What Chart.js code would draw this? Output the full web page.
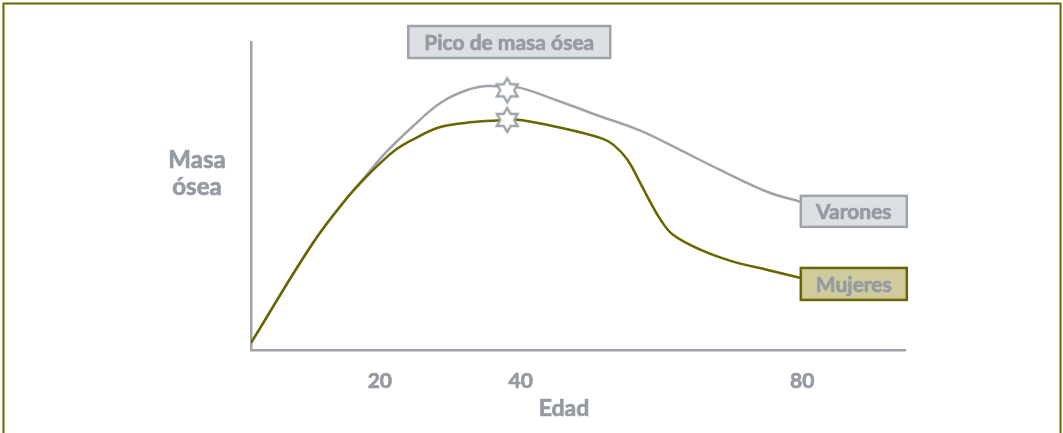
<!DOCTYPE html>
<html>
<head>
<meta charset="utf-8">
<script src="https://cdn.jsdelivr.net/npm/chart.js@4/dist/chart.umd.min.js"></script>
<style>
  html, body { margin: 0; padding: 0; background: #ffffff; }
  #wrap { width: 1063px; height: 433px; position: relative; }
</style>
</head>
<body>
<div id="wrap"><canvas id="c" width="1063" height="433"></canvas></div>
<script>
// Edad (años) y masa ósea relativa
const edadVarones = [1.7, 10.4, 15.1, 17.9, 20.8, 24.6, 28.6, 32.4, 35.3, 38.1, 40.0, 45.7, 51.4, 57.0, 62.7, 68.4, 75.1, 79.8];
const masaVarones = [2.3, 34.4, 48.7, 56.2, 64.0, 72.4, 80.2, 84.4, 85.7, 85.4, 85.1, 80.6, 75.8, 71.2, 64.9, 58.4, 51.3, 48.1];

const edadMujeres = [1.7, 10.4, 15.1, 17.9, 19.8, 22.2, 24.6, 28.6, 33.3, 38.1, 40.0, 45.2, 51.4, 53.2, 55.2, 57.0, 58.5, 59.9, 61.7, 65.6, 70.3, 75.1, 79.8];
const masaMujeres = [2.3, 34.4, 48.7, 55.8, 60.1, 64.9, 68.2, 72.4, 74.0, 74.7, 74.7, 72.4, 68.8, 66.6, 61.7, 54.2, 47.7, 42.2, 37.3, 32.5, 28.6, 26.0, 23.4];

// Pico de masa ósea (edad y valor en cada curva)
const edadPico = [38.1, 38.1];
const masaPico = [84.3, 74.7];

const edadTicks = [20, 40, 80];
const serieNombres = ['Varones', 'Mujeres'];
const tituloPico = 'Pico de masa ósea';
const tituloY = ['Masa', 'ósea'];
const tituloX = 'Edad';

const GRIS = '#9ea4aa';
const GRIS_TXT = '#959ba2';
const OLIVA = '#6b6500';
const FONT = 'Lato, "Open Sans", sans-serif';

function pts(xs, ys) { return xs.map((x, i) => ({ x: x, y: ys[i] })); }

// Six-pointed star used as point marker
function hexagram(r) {
  const pad = 3;
  const size = Math.ceil(r * 2 + pad * 2);
  const cv = document.createElement('canvas');
  cv.width = size; cv.height = size;
  const g = cv.getContext('2d');
  const cx = size / 2, cy = size / 2;
  const ri = r * 0.58;
  g.beginPath();
  for (let i = 0; i < 12; i++) {
    const a = -Math.PI / 2 + i * Math.PI / 6;
    const rr = i % 2 === 0 ? r : ri;
    const px = cx + rr * Math.cos(a), py = cy + rr * Math.sin(a);
    if (i === 0) g.moveTo(px, py); else g.lineTo(px, py);
  }
  g.closePath();
  g.fillStyle = '#ffffff';
  g.fill();
  g.lineWidth = 2.4;
  g.strokeStyle = GRIS;
  g.lineJoin = 'miter';
  g.stroke();
  return cv;
}
const estrella = hexagram(12);

// bold text with a hairline outline for a heavier face
function heavyText(ctx, text, x, y, size) {
  ctx.font = 'bold ' + size + 'px ' + FONT;
  ctx.fillStyle = GRIS_TXT;
  ctx.strokeStyle = GRIS_TXT;
  ctx.lineWidth = 0.7;
  ctx.lineJoin = 'round';
  ctx.fillText(text, x, y);
  ctx.strokeText(text, x, y);
}

function box(ctx, x, y, w, h, fill, stroke, text) {
  ctx.save();
  ctx.fillStyle = fill;
  ctx.fillRect(x, y, w, h);
  ctx.lineWidth = 2.5;
  ctx.strokeStyle = stroke;
  ctx.strokeRect(x, y, w, h);
  ctx.textAlign = 'center';
  ctx.textBaseline = 'middle';
  heavyText(ctx, text, x + w / 2, y + h / 2 + 1, 21);
  ctx.restore();
}

const decoraciones = {
  id: 'decoraciones',
  afterDatasetsDraw(chart) {
    const ctx = chart.ctx;
    const xs = chart.scales.x, ys = chart.scales.y;
    const area = chart.chartArea;

    // outer frame
    ctx.save();
    ctx.strokeStyle = OLIVA;
    ctx.lineWidth = 2;
    ctx.strokeRect(3.5, 3.5, 1057, 440);
    ctx.restore();

    // peak caption
    const px = xs.getPixelForValue(edadPico[0]);
    box(ctx, px - 99, area.top - 16, 202, 32, '#dcdfe3', GRIS, tituloPico);

    // series labels at line ends
    const vx = xs.getPixelForValue(edadVarones[edadVarones.length - 1]);
    const vy = ys.getPixelForValue(masaVarones[masaVarones.length - 1]);
    box(ctx, vx, vy - 6, 106, 31, '#dcdfe3', GRIS, serieNombres[0]);
    const mx = xs.getPixelForValue(edadMujeres[edadMujeres.length - 1]);
    const my = ys.getPixelForValue(masaMujeres[masaMujeres.length - 1]);
    box(ctx, mx, my - 10, 106, 32, '#cfcb9c', OLIVA, serieNombres[1]);

    // axis titles
    ctx.save();
    ctx.textAlign = 'center';
    ctx.textBaseline = 'middle';
    heavyText(ctx, tituloY[0], 197, 160, 24);
    heavyText(ctx, tituloY[1], 197, 187, 24);
    heavyText(ctx, tituloX, 564, 409, 23);
    ctx.restore();
  }
};

new Chart(document.getElementById('c'), {
  type: 'line',
  data: {
    datasets: [
      {
        label: serieNombres[0],
        data: pts(edadVarones, masaVarones),
        borderColor: GRIS,
        borderWidth: 2.5,
        pointRadius: 0,
        tension: 0.4,
        fill: false,
        order: 3
      },
      {
        label: serieNombres[1],
        data: pts(edadMujeres, masaMujeres),
        borderColor: OLIVA,
        borderWidth: 2.5,
        pointRadius: 0,
        tension: 0.4,
        fill: false,
        order: 2
      },
      {
        label: tituloPico,
        data: pts(edadPico, masaPico),
        showLine: false,
        pointStyle: estrella,
        pointRadius: 12,
        order: 1
      }
    ]
  },
  options: {
    responsive: false,
    animation: false,
    events: [],
    layout: { padding: { top: 42, right: 158, left: 0, bottom: 0 } },
    plugins: { legend: { display: false }, tooltip: { enabled: false } },
    scales: {
      x: {
        type: 'linear',
        min: 1.7,
        max: 94.6,
        afterFit(s) { s.height = 83; },
        afterBuildTicks(s) { s.ticks = edadTicks.map(v => ({ value: v })); },
        grid: { display: false, drawTicks: false },
        border: { display: true, color: GRIS, width: 2.5 },
        ticks: {
          color: GRIS_TXT,
          font: { family: FONT, size: 21, weight: 'bold' },
          padding: 19,
          maxRotation: 0,
          autoSkip: false,
          textStrokeColor: GRIS_TXT,
          textStrokeWidth: 0.7
        }
      },
      y: {
        min: 0,
        max: 100,
        afterFit(s) { s.width = 251; },
        grid: { display: false, drawTicks: false },
        border: { display: true, color: GRIS, width: 2.5 },
        ticks: { display: false }
      }
    }
  },
  plugins: [decoraciones]
});
</script>
</body>
</html>
